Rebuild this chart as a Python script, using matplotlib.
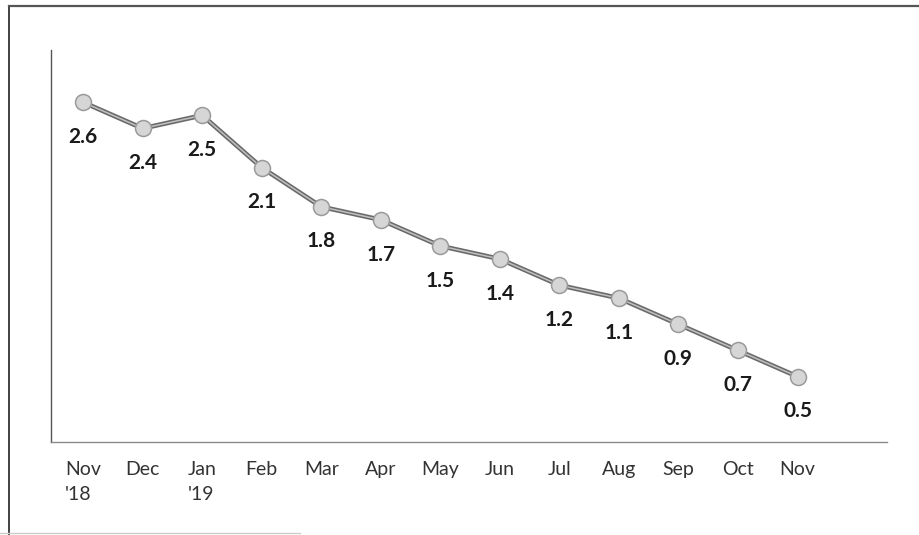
import matplotlib.pyplot as plt
from matplotlib.lines import Line2D

months = ["Nov\n'18", "Dec", "Jan\n'19", "Feb", "Mar", "Apr", "May",
          "Jun", "Jul", "Aug", "Sep", "Oct", "Nov"]
values = [2.6, 2.4, 2.5, 2.1, 1.8, 1.7, 1.5, 1.4, 1.2, 1.1, 0.9, 0.7, 0.5]
value_labels = ["2.6", "2.4", "2.5", "2.1", "1.8", "1.7", "1.5", "1.4",
                "1.2", "1.1", "0.9", "0.7", "0.5"]

plt.rcParams['font.family'] = ['Lato', 'DejaVu Sans']

fig = plt.figure(figsize=(9.19, 5.35), dpi=100)
ax = fig.add_axes([0.0555, 0.174, 0.9095, 0.7325])

x = list(range(len(values)))
# doubled line gives the scanned, textured look
ax.plot(x, values, color='#6a6a6a', lw=3.4, zorder=2, solid_capstyle='round')
ax.plot(x, values, color='#c0c0c0', lw=1.1, zorder=3)
ax.plot(x, values, ls='none', marker='o', ms=11.5, mfc='#d6d6d6',
        mec='#9a9a9a', mew=1.1, zorder=4)

for xi, v, lab in zip(x, values, value_labels):
    ax.annotate(lab, (xi, v), xytext=(0, -25), textcoords='offset points',
                ha='center', va='center', fontsize=15, color='#1a1a1a',
                fontweight='bold')

ax.set_xlim(-0.54, 13.5)
ax.set_ylim(0, 3.0)
ax.set_xticks(x)
ax.set_xticklabels(months, fontsize=14, color='#333333', ha='center',
                   multialignment='left', linespacing=1.55)
ax.tick_params(axis='x', length=0, pad=14)
ax.tick_params(axis='y', left=False, labelleft=False)
for s in ['top', 'right']:
    ax.spines[s].set_visible(False)
ax.spines['left'].set_color('#555555')
ax.spines['left'].set_linewidth(1.0)
ax.spines['bottom'].set_color('#8a8a8a')
ax.spines['bottom'].set_linewidth(1.0)

# page border of the scanned figure
fig.add_artist(Line2D([9 / 919, 9 / 919], [0, 1 - 6 / 535],
                      transform=fig.transFigure, color='#333333', lw=1.3))
fig.add_artist(Line2D([9 / 919, 1], [1 - 6 / 535, 1 - 6 / 535],
                      transform=fig.transFigure, color='#555555', lw=1.6))
fig.add_artist(Line2D([0, 300 / 919], [2 / 535, 2 / 535],
                      transform=fig.transFigure, color='#cccccc', lw=1.0))

fig.savefig('out.png', dpi=100)
